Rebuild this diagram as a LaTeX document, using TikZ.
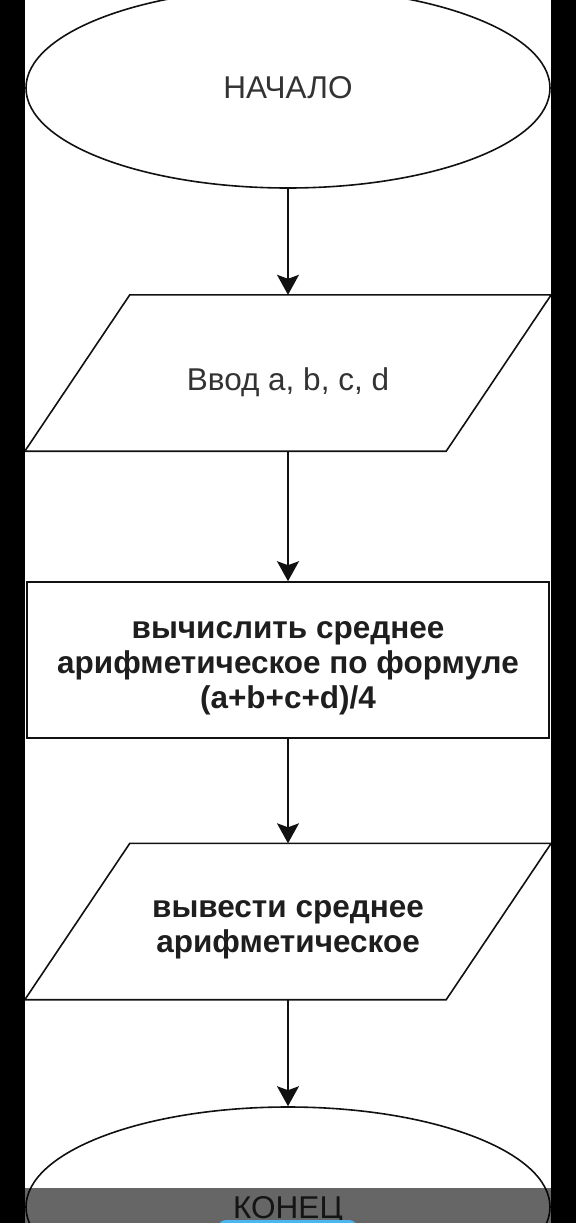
\documentclass[tikz,border=0pt]{standalone}
\usepackage{fontspec}
\setmainfont{Liberation Sans}
\usetikzlibrary{arrows.meta,shapes.geometric}
\definecolor{FlowInk}{HTML}{111111}
\definecolor{TextGray}{HTML}{333333}
\definecolor{BoldInk}{HTML}{1E1E1E}
\definecolor{ButtonBlue}{HTML}{4DB6EE}

\begin{document}
\begin{tikzpicture}[x=1pt,y=-1pt,
  terminal/.style={draw=FlowInk,line width=1.6pt,ellipse,minimum width=524pt,minimum height=200pt,inner sep=0pt,text depth=0pt,text=TextGray,font=\fontsize{31.5}{36}\selectfont},
  io/.style={rectangle,minimum width=421pt,minimum height=156pt,inner sep=0pt},
  outline/.style={draw=FlowInk,line width=1.6pt,line join=miter},
  process/.style={draw=FlowInk,line width=1.6pt,rectangle,minimum width=522pt,minimum height=156pt,inner sep=0pt},
  plain/.style={text=TextGray,font=\fontsize{31.5}{36}\selectfont,align=center},
  strong/.style={text=BoldInk,font=\bfseries\fontsize{31.5}{35}\selectfont,align=center},
  arr/.style={-{Stealth[length=20pt,width=22pt,inset=4pt]},line width=1.6pt,draw=FlowInk}
]
\useasboundingbox (0,0) rectangle (576,1223);
\fill[white] (0,0) rectangle (576,1223);

\node[terminal] (start) at (288,88) {НАЧАЛО};
\node[io] (input) at (288,373) {};
\node[process] (mean) at (288,660) {};
\node[io] (output) at (288,921.5) {};
\node[terminal] (stop) at (288,1207) {КОНЕЦ};

% slanted data boxes
\foreach \slot in {input,output}
  \draw[outline] ([xshift=52.5pt]\slot.north west) -- ([xshift=52.5pt]\slot.north east)
    -- ([xshift=-52.5pt]\slot.south east) -- ([xshift=-52.5pt]\slot.south west) -- cycle;

\node[plain] (inputtext) at ([yshift=-9pt]input.center) {Ввод a, b, c, d};
\node[strong] (meantext) at ([yshift=-8pt]mean.center) {вычислить среднее\\арифметическое по формуле\\(a+b+c+d)/4};
\node[strong] (outputtext) at ([yshift=-8pt]output.center) {вывести среднее\\арифметическое};

\draw[arr] (start) -- (input);
\draw[arr] (input) -- (mean);
\draw[arr] (mean) -- (output);
\draw[arr] (output) -- (stop);

% screen overlay and window edges
\fill[black,opacity=0.6] (24,1188) rectangle (551,1223);
\fill[ButtonBlue,rounded corners=8pt] (218,1220) rectangle (357,1240);
\fill[black] (0,0) rectangle (24.5,1223);
\fill[black] (551,0) rectangle (576,1223);
\end{tikzpicture}
\end{document}
